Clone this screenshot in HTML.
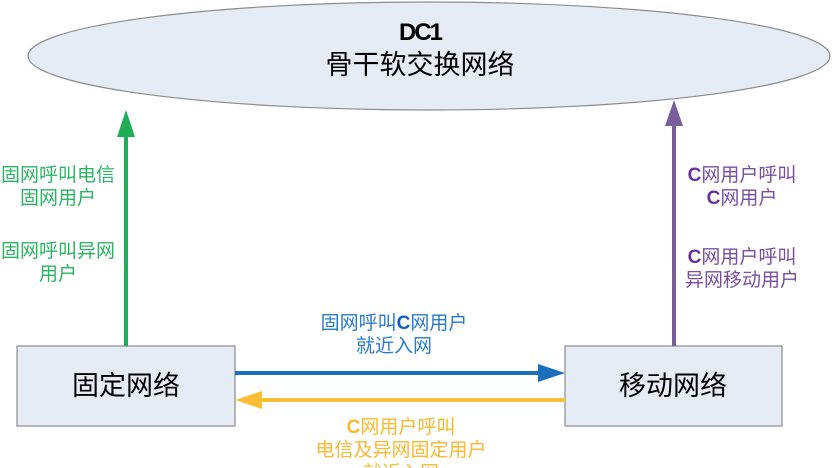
<!DOCTYPE html>
<html><head><meta charset="utf-8"><style>
html,body{margin:0;padding:0;background:#fff;width:838px;height:468px;overflow:hidden}
text{font-family:"Liberation Sans","Noto Sans CJK SC",sans-serif}
</style></head><body>
<svg width="838" height="468" viewBox="0 0 838 468" xmlns="http://www.w3.org/2000/svg">
<ellipse cx="429" cy="56" rx="401" ry="54" fill="#e6ecf6" stroke="#8c8c8c" stroke-width="1.2"/>
<text x="420" y="40" font-size="24" font-weight="bold" text-anchor="middle" fill="#000" letter-spacing="-2">DC1</text>
<text x="420" y="74" font-size="27" text-anchor="middle" fill="#000">骨干软交换网络</text>
<rect x="17" y="346" width="218" height="80" fill="#e6ecf6" stroke="#8c8c8c" stroke-width="1.2"/>
<rect x="565" y="346" width="217" height="80" fill="#e6ecf6" stroke="#8c8c8c" stroke-width="1.2"/>
<text x="126" y="395" font-size="27" text-anchor="middle">固定网络</text>
<text x="673" y="395" font-size="27" text-anchor="middle">移动网络</text>
<line x1="126" y1="346" x2="126" y2="134" stroke="#1fae55" stroke-width="4"/>
<polygon points="117,137 135,137 126,110" fill="#1fae55"/>
<line x1="674" y1="346" x2="674" y2="124" stroke="#7a5e9c" stroke-width="4"/>
<polygon points="665,126 683,126 674,100" fill="#7a5e9c"/>
<line x1="235" y1="373" x2="540" y2="373" stroke="#1a6fbd" stroke-width="4"/>
<polygon points="538,364 538,382 565,373" fill="#1a6fbd"/>
<line x1="565" y1="400" x2="260" y2="400" stroke="#fbbc36" stroke-width="4"/>
<polygon points="262,391 262,409 235,400" fill="#fbbc36"/>
<g font-size="19" text-anchor="middle" fill="#2bb463">
<text x="58" y="181">固网呼叫电信</text>
<text x="58" y="204">固网用户</text>
<text x="58" y="257">固网呼叫异网</text>
<text x="58" y="280">用户</text>
</g>
<g font-size="19" text-anchor="middle" fill="#7a4fa0">
<text x="742" y="181"><tspan font-weight="bold" fill="#6a30a0">C</tspan>网用户呼叫</text>
<text x="742" y="204"><tspan font-weight="bold" fill="#6a30a0">C</tspan>网用户</text>
<text x="742" y="263"><tspan font-weight="bold" fill="#6a30a0">C</tspan>网用户呼叫</text>
<text x="742" y="286">异网移动用户</text>
</g>
<g font-size="19" text-anchor="middle" fill="#2a7bc8">
<text x="394" y="329">固网呼叫<tspan font-weight="bold" fill="#1060c0">C</tspan>网用户</text>
<text x="394" y="352">就近入网</text>
</g>
<g font-size="19" text-anchor="middle" fill="#f9b930">
<text x="401" y="433"><tspan font-weight="bold">C</tspan>网用户呼叫</text>
<text x="401" y="456">电信及异网固定用户</text>
<text x="401" y="479">就近入网</text>
</g>
</svg>
</body></html>
